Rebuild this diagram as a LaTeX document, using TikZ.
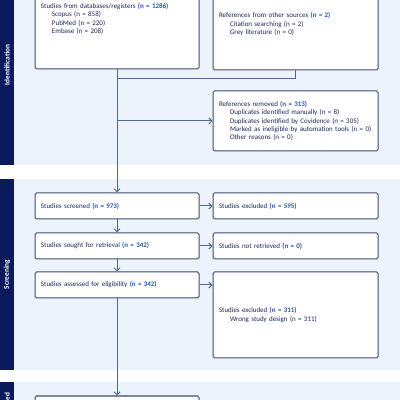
\documentclass[tikz,border=0pt]{standalone}
\usepackage{fontspec}
\setmainfont{Carlito}
\usepackage{tikz}
\usetikzlibrary{arrows.meta,positioning}
\definecolor{bandbg}{RGB}{237,243,252}
\definecolor{phaseN}{RGB}{12,26,92}
\definecolor{boxL}{RGB}{60,76,104}
\definecolor{lineB}{RGB}{78,106,142}
\definecolor{txtN}{RGB}{27,40,90}
\definecolor{numB}{RGB}{45,85,176}
\newcommand{\ncount}[1]{{\color{numB}\bfseries (n = #1)}}
\newcommand{\itm}{\hspace*{11pt}}

\begin{document}
\begin{tikzpicture}[x=1pt, y=1pt, font=\fontsize{7}{8.4}\selectfont,
  >={Straight Barb[length=3pt,width=6pt]},
  box/.style={rectangle, rounded corners=1.5pt, draw=boxL, fill=white, line width=1pt,
              text=txtN, align=left, inner xsep=6pt, inner ysep=2pt},
  lbox/.style={box, text width=152pt},
  rbox/.style={box, text width=153pt},
  phase/.style={rotate=90, text=white, inner sep=0pt,
                font=\fontsize{7.3}{8}\selectfont\bfseries},
  flow/.style={draw=lineB, line width=1pt}]
  \useasboundingbox (0,0) rectangle (400,400);
  \clip (0,0) rectangle (400,400);

  \fill[bandbg] (0,235) rectangle (400,440);
  \fill[bandbg] (0,30) rectangle (400,221);
  \fill[bandbg] (0,-40) rectangle (400,18);
  \fill[phaseN] (0,235) rectangle (14,440);
  \fill[phaseN] (0,30) rectangle (14,221);
  \fill[phaseN] (0,-40) rectangle (14,18);
  \node[phase] (pid) at (7,335) {Identification};
  \node[phase] (psc) at (7,125.5) {Screening};
  \node[phase] (pin) at (7,-6) {Included};

  \node[lbox, minimum height=100pt] (db) at (117,381)
      {Studies from databases/registers \ncount{1286}\\ \itm Scopus (n = 858)\\
       \itm PubMed (n = 220)\\ \itm Embase (n = 208)};
  \node[rbox, minimum height=92pt] (oth) at (295.5,376)
      {References from other sources \ncount{2}\\ \itm Citation searching (n = 2)\\
       \itm Grey literature (n = 0)};
  \node[rbox, minimum height=60pt] (rem) at (295.5,279)
      {References removed \ncount{313}\\ \itm Duplicates identified manually (n = 8)\\
       \itm Duplicates identified by Covidence (n = 305)\\
       \itm\mbox{Marked as ineligible by automation tools (n = 0)}\\ \itm Other reasons (n = 0)};

  \node[lbox, minimum height=26pt] (scr) at (117,194) {Studies screened \ncount{973}};
  \node[rbox, minimum height=26pt] (exc) at (295.5,194) {Studies excluded \ncount{595}};
  \node[lbox, minimum height=26pt] (sgt) at (117,154) {Studies sought for retrieval \ncount{342}};
  \node[rbox, minimum height=26pt] (nrt) at (295.5,154) {Studies not retrieved \ncount{0}};
  \node[lbox, minimum height=26pt] (ass) at (117,115) {Studies assessed for eligibility \ncount{342}};
  \node[rbox, minimum height=86pt] (ex2) at (295.5,85)
      {Studies excluded \ncount{311}\\ \itm Wrong study design (n = 311)};
  \node[lbox, minimum height=44pt] (inc) at (117,-18) {};

  \coordinate (mrg) at (db.south |- 0,321);
  \coordinate (brn) at (db.south |- rem.west);
  \draw[flow, ->] (db) -- (scr);
  \draw[flow] (oth.south) |- (mrg);
  \draw[flow, ->] (brn) -- (rem.west);
  \draw[flow, ->] (scr) -- (sgt);
  \draw[flow, ->] (sgt) -- (ass);
  \draw[flow, ->] (ass) -- (inc);
  \draw[flow, ->] (scr) -- (exc);
  \draw[flow, ->] (sgt) -- (nrt);
  \draw[flow, ->] (ass.east) -- (ass.east -| ex2.west);
\end{tikzpicture}
\end{document}
